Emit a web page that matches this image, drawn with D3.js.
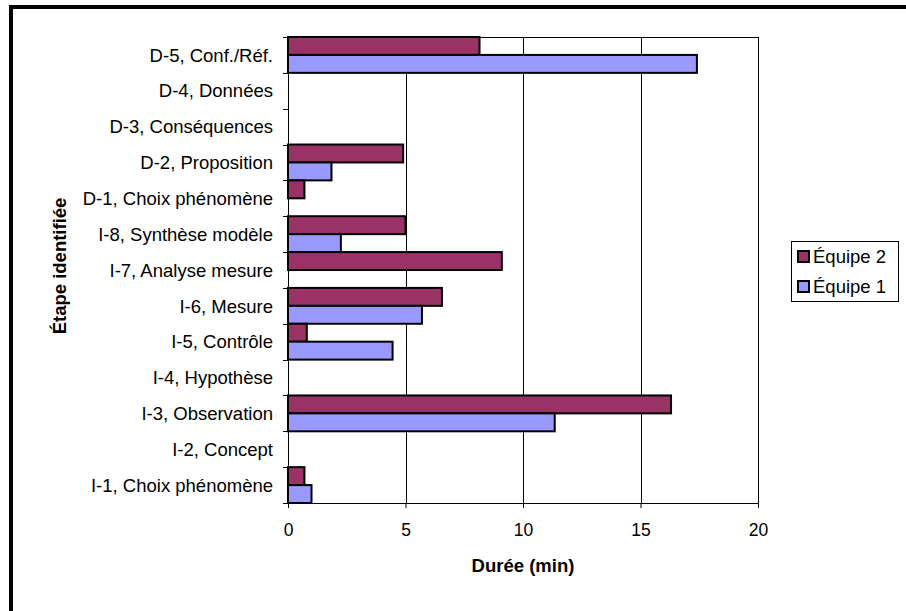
<!DOCTYPE html>
<html>
<head>
<meta charset="utf-8">
<script src="https://cdn.jsdelivr.net/npm/d3@7"></script>
<style>
  body { margin: 0; background: #fff; }
  svg { display: block; font-family: "Liberation Sans", Arial, sans-serif; }
</style>
</head>
<body>
<svg width="906" height="611"></svg>
<script>
// categories, top to bottom
const categories = [
  'D-5, Conf./Réf.', 'D-4, Données', 'D-3, Conséquences', 'D-2, Proposition',
  'D-1, Choix phénomène', 'I-8, Synthèse modèle', 'I-7, Analyse mesure',
  'I-6, Mesure', 'I-5, Contrôle', 'I-4, Hypothèse', 'I-3, Observation',
  'I-2, Concept', 'I-1, Choix phénomène'
];
const equipe2 = [8.15, null, null, 4.9, 0.7, 5.0, 9.1, 6.55, 0.8, null, 16.3, null, 0.7];
const equipe1 = [17.4, null, null, 1.85, null, 2.25, null, 5.7, 4.45, null, 11.35, null, 1.0];
const series = ['Équipe 2', 'Équipe 1'];
const colors = ['#993366', '#9999ff'];
const xTicks = [0, 5, 10, 15, 20];

const svg = d3.select('svg');

// outer frame (goes past the window on the right and bottom)
svg.append('rect')
  .attr('x', 11).attr('y', 7)
  .attr('width', 1000).attr('height', 1000)
  .attr('fill', 'none').attr('stroke', '#000').attr('stroke-width', 4);

const margin = {left: 288, top: 37, right: 758, bottom: 503};

const x = d3.scaleLinear().domain([0, 20]).range([margin.left, margin.right]);
const y = d3.scaleBand().domain(categories).range([margin.top, margin.bottom]).padding(0);
const sub = d3.scaleBand().domain(series).range([0, y.bandwidth()]).padding(0);

const g = svg.append('g');

// gridlines
g.selectAll('.grid')
  .data(xTicks.slice(1))
  .enter().append('line')
  .attr('class', 'grid')
  .attr('x1', d => Math.round(x(d)) + 0.5).attr('x2', d => Math.round(x(d)) + 0.5)
  .attr('y1', margin.top).attr('y2', margin.bottom)
  .attr('stroke', '#000').attr('stroke-width', 1);

// top border of plot
g.append('line')
  .attr('x1', margin.left).attr('x2', margin.right + 1)
  .attr('y1', margin.top + 0.5).attr('y2', margin.top + 0.5)
  .attr('stroke', '#000');

// bars
const rows = categories.map((c, i) => ({cat: c, vals: [equipe2[i], equipe1[i]]}));
const barData = [];
rows.forEach(r => r.vals.forEach((v, k) => {
  if (v != null) barData.push({cat: r.cat, s: series[k], v: v, k: k});
}));

g.selectAll('.bar')
  .data(barData)
  .enter().append('rect')
  .attr('class', 'bar')
  .attr('x', x(0))
  .attr('y', d => y(d.cat) + sub(d.s))
  .attr('width', d => x(d.v) - x(0))
  .attr('height', sub.bandwidth())
  .attr('fill', d => colors[d.k])
  .attr('stroke', '#000')
  .attr('stroke-width', 2);

// x axis
const xAxis = g.append('g')
  .attr('transform', 'translate(0,' + margin.bottom + ')')
  .call(d3.axisBottom(x).tickValues(xTicks).tickSize(5).tickPadding(16));
xAxis.select('.domain').attr('stroke', '#000');
xAxis.selectAll('text').attr('font-size', 17.5).attr('fill', '#000')
  .attr('font-family', '"Liberation Sans", Arial, sans-serif');

// y axis: ticks at band edges, labels centered
const yAxis = g.append('g')
  .attr('transform', 'translate(' + margin.left + ',0)');
yAxis.append('line')
  .attr('x1', 0.5).attr('x2', 0.5)
  .attr('y1', margin.top).attr('y2', margin.bottom)
  .attr('stroke', '#000');
const edges = categories.map(c => y(c)).concat([margin.bottom]);
yAxis.selectAll('.ytick')
  .data(edges)
  .enter().append('line')
  .attr('x1', -5).attr('x2', 0)
  .attr('y1', d => Math.round(d) + 0.5).attr('y2', d => Math.round(d) + 0.5)
  .attr('stroke', '#000');
yAxis.selectAll('.ylabel')
  .data(categories)
  .enter().append('text')
  .attr('x', -15)
  .attr('y', d => y(d) + y.bandwidth() / 2)
  .attr('dy', '0.36em')
  .attr('text-anchor', 'end')
  .attr('font-size', 18.5)
  .text(d => d);

// right border of plot
g.append('line')
  .attr('x1', margin.right + 0.5).attr('x2', margin.right + 0.5)
  .attr('y1', margin.top).attr('y2', margin.bottom)
  .attr('stroke', '#000');

// axis titles
svg.append('text')
  .attr('x', x(10)).attr('y', 572)
  .attr('text-anchor', 'middle')
  .attr('font-size', 18.5).attr('font-weight', 'bold')
  .text('Durée (min)');

svg.append('text')
  .attr('transform', 'translate(66,266) rotate(-90)')
  .attr('text-anchor', 'middle')
  .attr('font-size', 18.5).attr('font-weight', 'bold')
  .text('Étape identifiée');

// legend
const legend = svg.append('g').attr('transform', 'translate(791,241)');
legend.append('rect')
  .attr('x', 0.5).attr('y', 0.5).attr('width', 107).attr('height', 60)
  .attr('fill', '#fff').attr('stroke', '#000');
const li = legend.selectAll('.li')
  .data(series)
  .enter().append('g')
  .attr('transform', (d, i) => 'translate(0,' + (15 + i * 30) + ')');
li.append('rect')
  .attr('x', 7).attr('y', -5).attr('width', 11).attr('height', 11)
  .attr('fill', (d, i) => colors[i])
  .attr('stroke', '#000').attr('stroke-width', 2);
li.append('text')
  .attr('x', 22).attr('y', 0).attr('dy', '0.36em')
  .attr('font-size', 18.5)
  .text(d => d);
</script>
</body>
</html>
